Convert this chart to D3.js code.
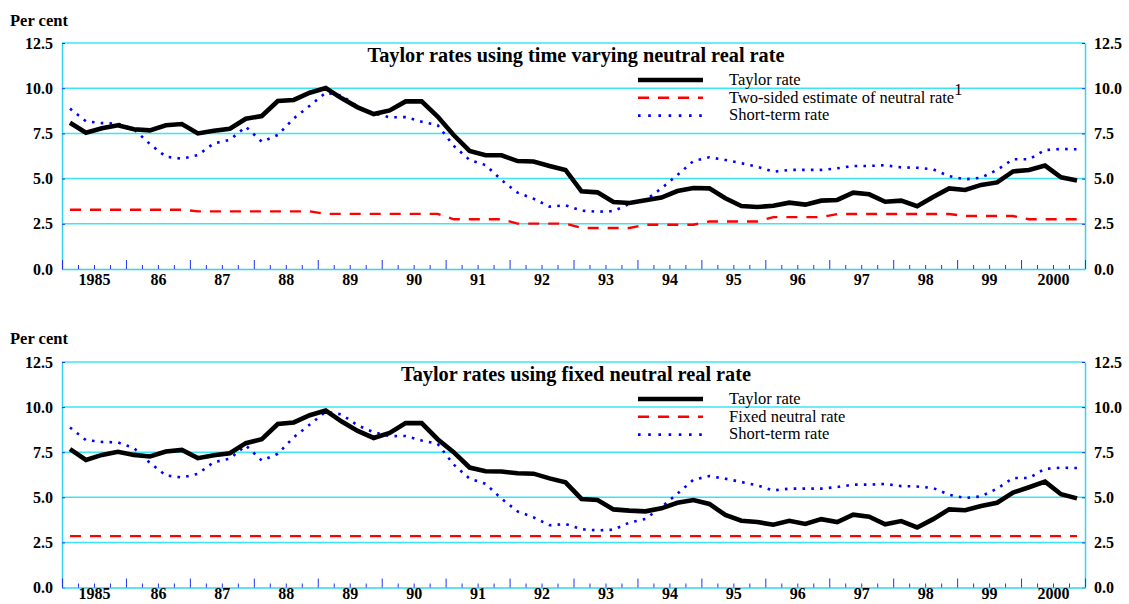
<!DOCTYPE html>
<html>
<head>
<meta charset="utf-8">
<script src="https://cdn.jsdelivr.net/npm/d3@7"></script>
<style>
    body { margin: 0; background: #fff; }
    svg { display: block; font-family: "Liberation Serif", "Times New Roman", serif; }
</style>
</head>
<body>
<div id="chart"></div>
<script>
// Quarterly data, 1985Q1 - 2000Q4
const yearLabels = ['1985', '86', '87', '88', '89', '90', '91', '92', '93', '94', '95', '96', '97', '98', '99', '2000'];
const yTicks = [0, 2.5, 5, 7.5, 10, 12.5];

const taylorVarying = [
    8.09, 7.54, 7.78, 7.95, 7.73, 7.67, 7.95, 8.02, 7.50, 7.65, 7.76, 8.31, 8.46, 9.29, 9.35, 9.75, 10.01, 9.44, 8.94, 8.57, 8.77,
    9.27, 9.27, 8.43, 7.41, 6.53, 6.29, 6.29, 5.97, 5.95, 5.70, 5.48, 4.30, 4.24, 3.71, 3.65, 3.80, 3.95, 4.31, 4.48, 4.46, 3.91,
    3.48, 3.43, 3.50, 3.67, 3.56, 3.78, 3.82, 4.22, 4.13, 3.72, 3.78, 3.47, 3.98, 4.46, 4.37, 4.65, 4.79, 5.40, 5.48, 5.72, 5.07, 4.89
];
const neutralVarying = [
    3.28, 3.28, 3.28, 3.28, 3.28, 3.28, 3.28, 3.28, 3.19, 3.19, 3.19, 3.19, 3.19, 3.19, 3.19, 3.19,
    3.05, 3.05, 3.05, 3.05, 3.05, 3.05, 3.05, 3.05, 2.75, 2.75, 2.75, 2.75, 2.51, 2.51, 2.51, 2.51,
    2.27, 2.27, 2.27, 2.27, 2.45, 2.45, 2.45, 2.45, 2.63, 2.63, 2.63, 2.63, 2.87, 2.87, 2.87, 2.87,
    3.04, 3.04, 3.04, 3.04, 3.04, 3.04, 3.04, 3.04, 2.93, 2.93, 2.93, 2.93, 2.75, 2.75, 2.75, 2.75
];
const shortRate = [
    8.87, 8.17, 8.07, 8.04, 7.73, 6.91, 6.21, 6.10, 6.30, 6.95, 7.14, 7.87, 7.04, 7.41, 8.33, 9.03, 9.75, 9.59, 8.98, 8.61, 8.39,
    8.40, 8.15, 7.96, 6.82, 6.03, 5.75, 4.92, 4.22, 3.89, 3.45, 3.52, 3.23, 3.17, 3.20, 3.60, 3.80, 4.46, 5.20, 5.97, 6.18, 6.03,
    5.85, 5.66, 5.38, 5.48, 5.48, 5.48, 5.57, 5.70, 5.70, 5.74, 5.62, 5.60, 5.51, 5.14, 4.96, 5.05, 5.48, 6.07, 6.07, 6.58, 6.64, 6.62
];
const taylorFixed = [
    7.67, 7.07, 7.35, 7.52, 7.35, 7.26, 7.54, 7.63, 7.17, 7.33, 7.44, 8.00, 8.22, 9.06, 9.15, 9.55, 9.81, 9.20, 8.68, 8.29, 8.57,
    9.11, 9.11, 8.22, 7.50, 6.65, 6.44, 6.43, 6.33, 6.31, 6.05, 5.83, 4.91, 4.85, 4.33, 4.26, 4.22, 4.39, 4.70, 4.85, 4.63, 4.02,
    3.70, 3.63, 3.48, 3.70, 3.52, 3.79, 3.63, 4.04, 3.92, 3.50, 3.68, 3.33, 3.79, 4.33, 4.28, 4.52, 4.70, 5.26, 5.56, 5.87, 5.17, 4.94
];
const fixedNeutral = 2.85;

const colors = {
    taylor: '#000000',
    neutral: '#ff0000',
    short: '#0000ff',
    grid: '#3ae6f6',
    axis: '#30d4f2',
    tick: '#2233ee'
};

const width = 1129, height = 604;
const left = 62, right = 1085;
const nQ = taylorVarying.length;

const svg = d3.select('#chart').append('svg')
    .attr('width', width)
    .attr('height', height);

const x = d3.scaleLinear().domain([0, nQ]).range([left, right]);

const panels = [
    {
        top: 43, bottom: 269, perCentY: 26, labelPad: 5,
        title: 'Taylor rates using time varying neutral real rate',
        taylor: taylorVarying,
        neutral: neutralVarying,
        neutralLabel: 'Two-sided estimate of neutral rate',
        footnote: '1'
    },
    {
        top: 362, bottom: 587.5, perCentY: 344, labelPad: 0.5,
        title: 'Taylor rates using fixed neutral real rate',
        taylor: taylorFixed,
        neutral: taylorFixed.map(() => fixedNeutral),
        neutralLabel: 'Fixed neutral rate',
        footnote: null
    }
];

panels.forEach(drawPanel);

function drawPanel(p) {
    const g = svg.append('g');
    const y = d3.scaleLinear().domain([0, 12.5]).range([p.bottom, p.top]);

    // "Per cent" label
    g.append('text')
        .attr('x', 10)
        .attr('y', p.perCentY)
        .style('font-size', '16.5px')
        .style('font-weight', 'bold')
        .text('Per cent');

    // Horizontal gridlines
    g.append('g')
        .selectAll('line')
        .data(yTicks.filter(d => d > 0))
        .join('line')
        .attr('x1', left)
        .attr('x2', right)
        .attr('y1', d => y(d))
        .attr('y2', d => y(d))
        .attr('stroke', colors.grid)
        .attr('stroke-width', 1.5);

    // Left and right value axes
    const yFmt = d3.format('.1f');
    const leftAxis = g.append('g')
        .attr('transform', `translate(${left},0)`)
        .call(d3.axisLeft(y).tickValues(yTicks).tickFormat(yFmt).tickSize(-3).tickSizeOuter(0).tickPadding(9));
    const rightAxis = g.append('g')
        .attr('transform', `translate(${right},0)`)
        .call(d3.axisRight(y).tickValues(yTicks).tickFormat(yFmt).tickSize(-3).tickSizeOuter(0).tickPadding(9));

    [leftAxis, rightAxis].forEach(a => {
        a.select('.domain').attr('stroke', colors.axis).attr('stroke-width', 1.5);
        a.selectAll('.tick line').attr('stroke', colors.tick);
        a.selectAll('text')
            .attr('fill', '#000')
            .style('font-size', '16px')
            .style('font-weight', 'bold')
            .style('font-family', '"Liberation Serif", "Times New Roman", serif');
    });

    // Bottom axis: quarter ticks (minor) and year ticks (major)
    const quarterTicks = d3.range(0, nQ + 1);
    const minor = g.append('g')
        .attr('transform', `translate(0,${p.bottom})`)
        .call(d3.axisBottom(x).tickValues(quarterTicks.filter(d => d % 4 !== 0)).tickSize(-4).tickSizeOuter(0).tickFormat(''));
    const major = g.append('g')
        .attr('transform', `translate(0,${p.bottom})`)
        .call(d3.axisBottom(x).tickValues(quarterTicks.filter(d => d % 4 === 0)).tickSize(-9).tickSizeOuter(0).tickFormat(''));
    minor.select('.domain').attr('stroke', colors.axis).attr('stroke-width', 1.5);
    major.select('.domain').remove();
    minor.selectAll('.tick line').attr('stroke', colors.tick);
    major.selectAll('.tick line').attr('stroke', colors.tick);

    // Year labels centred in each year
    const labels = g.append('g')
        .attr('transform', `translate(0,${p.bottom})`)
        .call(d3.axisBottom(x)
            .tickValues(yearLabels.map((d, i) => i * 4 + 2))
            .tickFormat((d, i) => yearLabels[i])
            .tickSize(0)
            .tickPadding(p.labelPad));
    labels.select('.domain').remove();
    labels.selectAll('text')
        .attr('fill', '#000')
        .style('font-size', '16px')
        .style('font-weight', 'bold')
        .style('font-family', '"Liberation Serif", "Times New Roman", serif');

    // Title
    g.append('text')
        .attr('x', 576)
        .attr('y', p.top + 18.7)
        .attr('text-anchor', 'middle')
        .style('font-size', '20.3px')
        .style('font-weight', 'bold')
        .text(p.title);

    // Series
    const line = d3.line()
        .x((d, i) => x(i + 0.5))
        .y(d => y(d));

    g.append('path')
        .datum(p.neutral)
        .attr('fill', 'none')
        .attr('stroke', colors.neutral)
        .attr('stroke-width', 2.4)
        .attr('stroke-dasharray', '11,9')
        .attr('d', line);

    g.append('path')
        .datum(shortRate)
        .attr('fill', 'none')
        .attr('stroke', colors.short)
        .attr('stroke-width', 2.6)
        .attr('stroke-dasharray', '2.6,6.2')
        .attr('d', line);

    g.append('path')
        .datum(p.taylor)
        .attr('fill', 'none')
        .attr('stroke', colors.taylor)
        .attr('stroke-width', 4.6)
        .attr('stroke-linejoin', 'miter')
        .attr('d', line);

    // Legend
    const items = [
        {label: 'Taylor rate', color: colors.taylor, w: 4.6, dash: null},
        {label: p.neutralLabel, color: colors.neutral, w: 2.4, dash: '11,9', note: p.footnote},
        {label: 'Short-term rate', color: colors.short, w: 2.6, dash: '2.6,7.6'}
    ];
    const legendY = [37, 54.7, 72.6];
    const legend = g.append('g');
    items.forEach((it, i) => {
        const ly = p.top + legendY[i];
        legend.append('line')
            .attr('x1', 638)
            .attr('x2', 703)
            .attr('y1', ly)
            .attr('y2', ly)
            .attr('stroke', it.color)
            .attr('stroke-width', it.w)
            .attr('stroke-dasharray', it.dash);
        const t = legend.append('text')
            .attr('x', 729)
            .attr('y', ly + 4.8)
            .style('font-size', '16.5px')
            .text(it.label);
        if (it.note) {
            t.append('tspan')
                .attr('dy', -8)
                .text(it.note);
        }
    });
}
</script>
</body>
</html>
